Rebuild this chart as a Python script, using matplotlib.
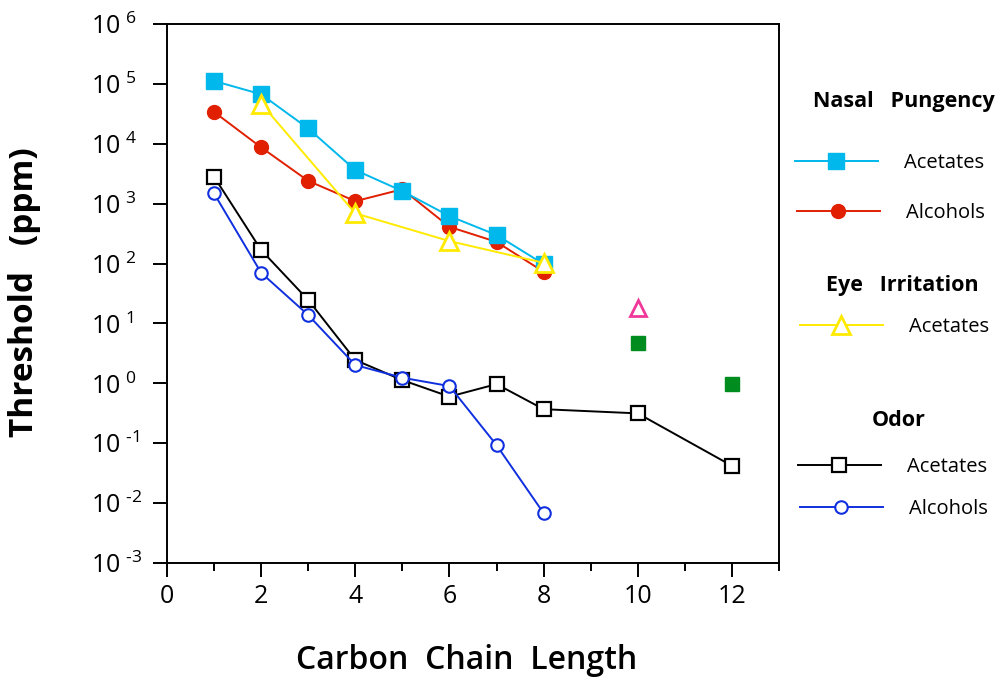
import math

import matplotlib
matplotlib.use("Agg")
import matplotlib.pyplot as plt
from matplotlib.ticker import FixedLocator, FuncFormatter

plt.rcParams['font.family'] = ['Open Sans', 'DejaVu Sans']
plt.rcParams['mathtext.fontset'] = 'custom'
plt.rcParams['mathtext.rm'] = 'Open Sans'

# nasal pungency thresholds
nasal_acet_x = [1, 2, 3, 4, 5, 6, 7, 8]
nasal_acet_y = [1.12e5, 6.7e4, 1.8e4, 3640, 1620, 620, 300, 98]
nasal_alc_x = [1, 2, 3, 4, 5, 6, 7, 8]
nasal_alc_y = [3.4e4, 8700, 2400, 1100, 1740, 410, 230, 73]
nasal_extra_x = [10, 12]
nasal_extra_y = [4.8, 0.96]
# eye irritation
eye_acet_x = [2, 4, 6, 8]
eye_acet_y = [4.7e4, 690, 237, 103]
eye_extra_x = [10]
eye_extra_y = [17.8]
# odor
odor_acet_x = [1, 2, 3, 4, 5, 6, 7, 8, 10, 12]
odor_acet_y = [2810, 168, 24.6, 2.45, 1.13, 0.60, 0.97, 0.37, 0.315, 0.042]
odor_alc_x = [1, 2, 3, 4, 5, 6, 7, 8]
odor_alc_y = [1480, 70, 13.8, 2.02, 1.24, 0.90, 0.093, 0.0068]

x_ticks = [0, 2, 4, 6, 8, 10, 12]
y_exps = list(range(-3, 7))

fig = plt.figure(figsize=(10.02, 6.81), dpi=100)
ax = fig.add_axes([167 / 1002, 1 - 563 / 681, 612 / 1002, 539 / 681])

l4, = ax.plot(odor_acet_x, odor_acet_y, '-s', color='black', lw=1.4, ms=9.5, mfc='white', mew=1.6)
l5, = ax.plot(odor_alc_x, odor_alc_y, '-o', color='#1030E0', lw=1.4, ms=9, mfc='white', mew=1.5)
l2, = ax.plot(nasal_alc_x, nasal_alc_y, '-o', color='#E02000', lw=1.4, ms=10, mec='#E02000')
l1, = ax.plot(nasal_acet_x, nasal_acet_y, '-s', color='#00B8EC', lw=1.4, ms=11, mec='#00B8EC')
l3, = ax.plot(eye_acet_x, eye_acet_y, '-^', color='#FFEA00', lw=1.4, ms=13, mfc='white', mew=2)
ax.plot(eye_extra_x, eye_extra_y, '^', color='#F0389A', ms=11, mfc='white', mew=2, ls='none')
ax.plot(nasal_extra_x, nasal_extra_y, 's', color='#008C1E', ms=9.5, ls='none')

ax.set_yscale('log')
ax.set_ylim(1e-3, 1e6)
ax.set_xlim(0, 13)
ax.xaxis.set_major_locator(FixedLocator(x_ticks))
ax.xaxis.set_minor_locator(FixedLocator([1, 3, 5, 7, 9, 11, 13]))
ax.yaxis.set_major_locator(FixedLocator([10.0 ** k for k in y_exps]))
ax.yaxis.set_minor_locator(FixedLocator([]))


def exp_label(v, pos):
    k = round(math.log10(v))
    if k < 0:
        return r'$\mathregular{10^{\ \text{-}%d}}$' % (-k)
    return r'$\mathregular{10^{\ %d}}$' % k


ax.yaxis.set_major_formatter(FuncFormatter(exp_label))
ax.tick_params(axis='both', which='major', direction='out', length=10, width=1.4, labelsize=18)
ax.tick_params(axis='x', which='minor', direction='out', length=6, width=1.4)
ax.tick_params(axis='x', which='major', pad=5)
ax.tick_params(axis='y', which='major', pad=45)
plt.setp(ax.get_yticklabels(), ha='left')
for s in ax.spines.values():
    s.set_linewidth(1.4)

ax.set_xlabel('Carbon  Chain  Length', fontsize=23, fontweight='semibold')
ax.xaxis.set_label_coords(0.49, -0.15)
ax.set_ylabel('Threshold   (ppm)', fontsize=24, fontweight='bold')
ax.yaxis.set_label_coords(-0.206, 0.502)


def heading(text, xc, yc):
    fig.text(xc / 1002, 1 - yc / 681, text, fontsize=15.5, fontweight='bold',
             ha='center', va='center')


def entry(handle, label, x_left, yc):
    leg = fig.legend([handle], [label], loc='center left', frameon=False,
                     bbox_to_anchor=(x_left / 1002, 1 - yc / 681), borderaxespad=0,
                     borderpad=0, fontsize=14.5, handlelength=4.1, handletextpad=1.3)
    return leg


heading('Nasal   Pungency', 904, 102)
entry(l1, 'Acetates', 795, 163)
entry(l2, 'Alcohols', 797, 213)
heading('Eye   Irritation', 902, 286)
entry(l3, 'Acetates', 800, 327)
heading('Odor', 899, 421)
entry(l4, 'Acetates', 798, 467)
entry(l5, 'Alcohols', 800, 509)

fig.savefig('out.png', dpi=100)
